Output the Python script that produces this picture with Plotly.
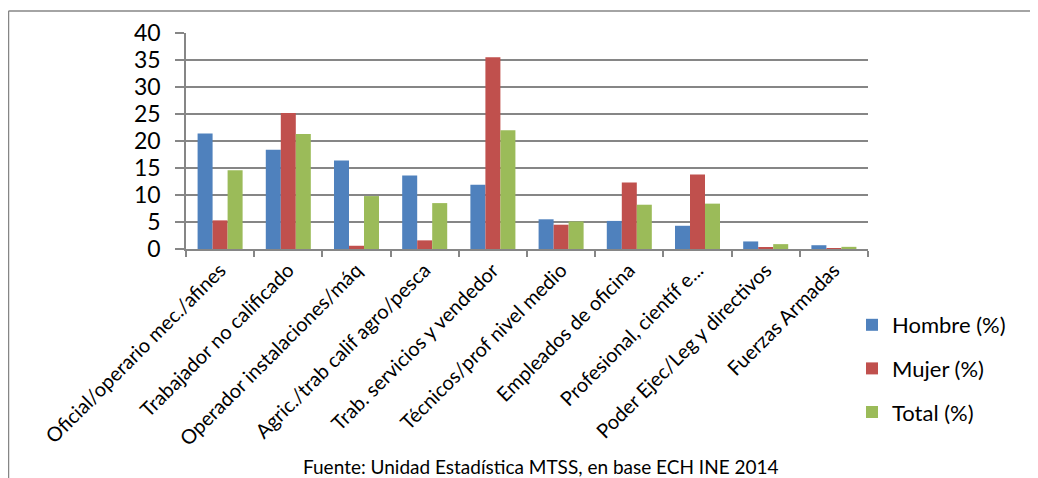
import plotly.graph_objects as go

categories = [
    "Oficial/operario mec./afines",
    "Trabajador no calificado",
    "Operador instalaciones/máq",
    "Agric./trab calif agro/pesca",
    "Trab. servicios y vendedor",
    "Técnicos/prof nivel medio",
    "Empleados de oficina",
    "Profesional, científ e...",
    "Poder Ejec/Leg y directivos",
    "Fuerzas Armadas",
]
hombre = [21.4, 18.4, 16.4, 13.6, 11.9, 5.5, 5.2, 4.3, 1.4, 0.7]
mujer = [5.3, 25.2, 0.6, 1.6, 35.5, 4.5, 12.3, 13.8, 0.2, 0.05]
total = [14.6, 21.3, 9.8, 8.5, 22.0, 5.1, 8.2, 8.4, 0.9, 0.4]
series_names = ["Hombre (%)", "Mujer (%)", "Total (%)"]
colors = ["#4F81BD", "#C0504D", "#9BBB59"]
source_text = "Fuente: Unidad Estadística MTSS, en base ECH INE 2014"

FONT = "Lato"

fig = go.Figure()
for name, vals, col in zip(series_names, [hombre, mujer, total], colors):
    fig.add_trace(go.Bar(
        x=categories, y=vals, name=name, legendgroup=name,
        marker=dict(color=col, line=dict(width=0)),
    ))

# page body has an 8px margin; positions below are in page pixels
D = 8
W, H = 1038, 478
L, R, T, B = 186 - D, W - (868 - D), 33 - D, H - (249 - D)
pw, ph = W - L - R, H - T - B

def px_x(x):
    return (x - D - L) / pw

def px_y(y):
    return (H - B - (y - D)) / ph

line_style = dict(color="#868686", width=1.5)

fig.update_layout(
    width=W, height=H,
    margin=dict(l=L, r=R, t=T, b=B, autoexpand=False),
    paper_bgcolor="white", plot_bgcolor="white",
    barmode="group", bargap=0.34, bargroupgap=0,
    font=dict(family=FONT, color="#000000"),
    showlegend=True,
    legend=dict(
        x=px_x(852), y=px_y(304), xanchor="left", yanchor="top",
        font=dict(family=FONT, size=22, color="#000000"),
        tracegroupgap=12, itemwidth=30,
        bgcolor="rgba(0,0,0,0)", borderwidth=0,
    ),
    xaxis=dict(
        type="category",
        tickangle=-45,
        tickfont=dict(family=FONT, size=20, color="#000000"),
        showline=True, linecolor="#868686", linewidth=1.5,
        ticks="outside", tickson="boundaries", ticklen=6, tickcolor="#868686", tickwidth=1.5,
        showgrid=False,
    ),
    yaxis=dict(
        range=[0, 40], tickvals=[0, 5, 10, 15, 20, 25, 30, 35, 40],
        tickfont=dict(family=FONT, size=23, color="#000000"),
        showline=True, linecolor="#868686", linewidth=1.5,
        ticks="outside", ticklen=9, tickcolor="#868686", tickwidth=1.5,
        ticklabelstandoff=10,
        showgrid=True, gridcolor="#868686", gridwidth=1.5,
        zeroline=False,
    ),
    shapes=[
        dict(type="line", xref="paper", yref="paper",
             x0=px_x(8.5), x1=px_x(1050), y0=px_y(11), y1=px_y(11), line=line_style),
        dict(type="line", xref="paper", yref="paper",
             x0=px_x(8.5), x1=px_x(8.5), y0=px_y(11), y1=px_y(480), line=line_style),
    ],
    annotations=[
        dict(text=source_text, xref="paper", yref="paper",
             x=px_x(541), y=px_y(466), xanchor="center", yanchor="middle",
             showarrow=False, font=dict(family=FONT, size=19, color="#000000")),
    ],
)

# keep the oversized figure from producing page scrollbars
fig.write_html("out.html", post_script="document.documentElement.style.overflow='hidden';document.body.style.overflow='hidden';")
